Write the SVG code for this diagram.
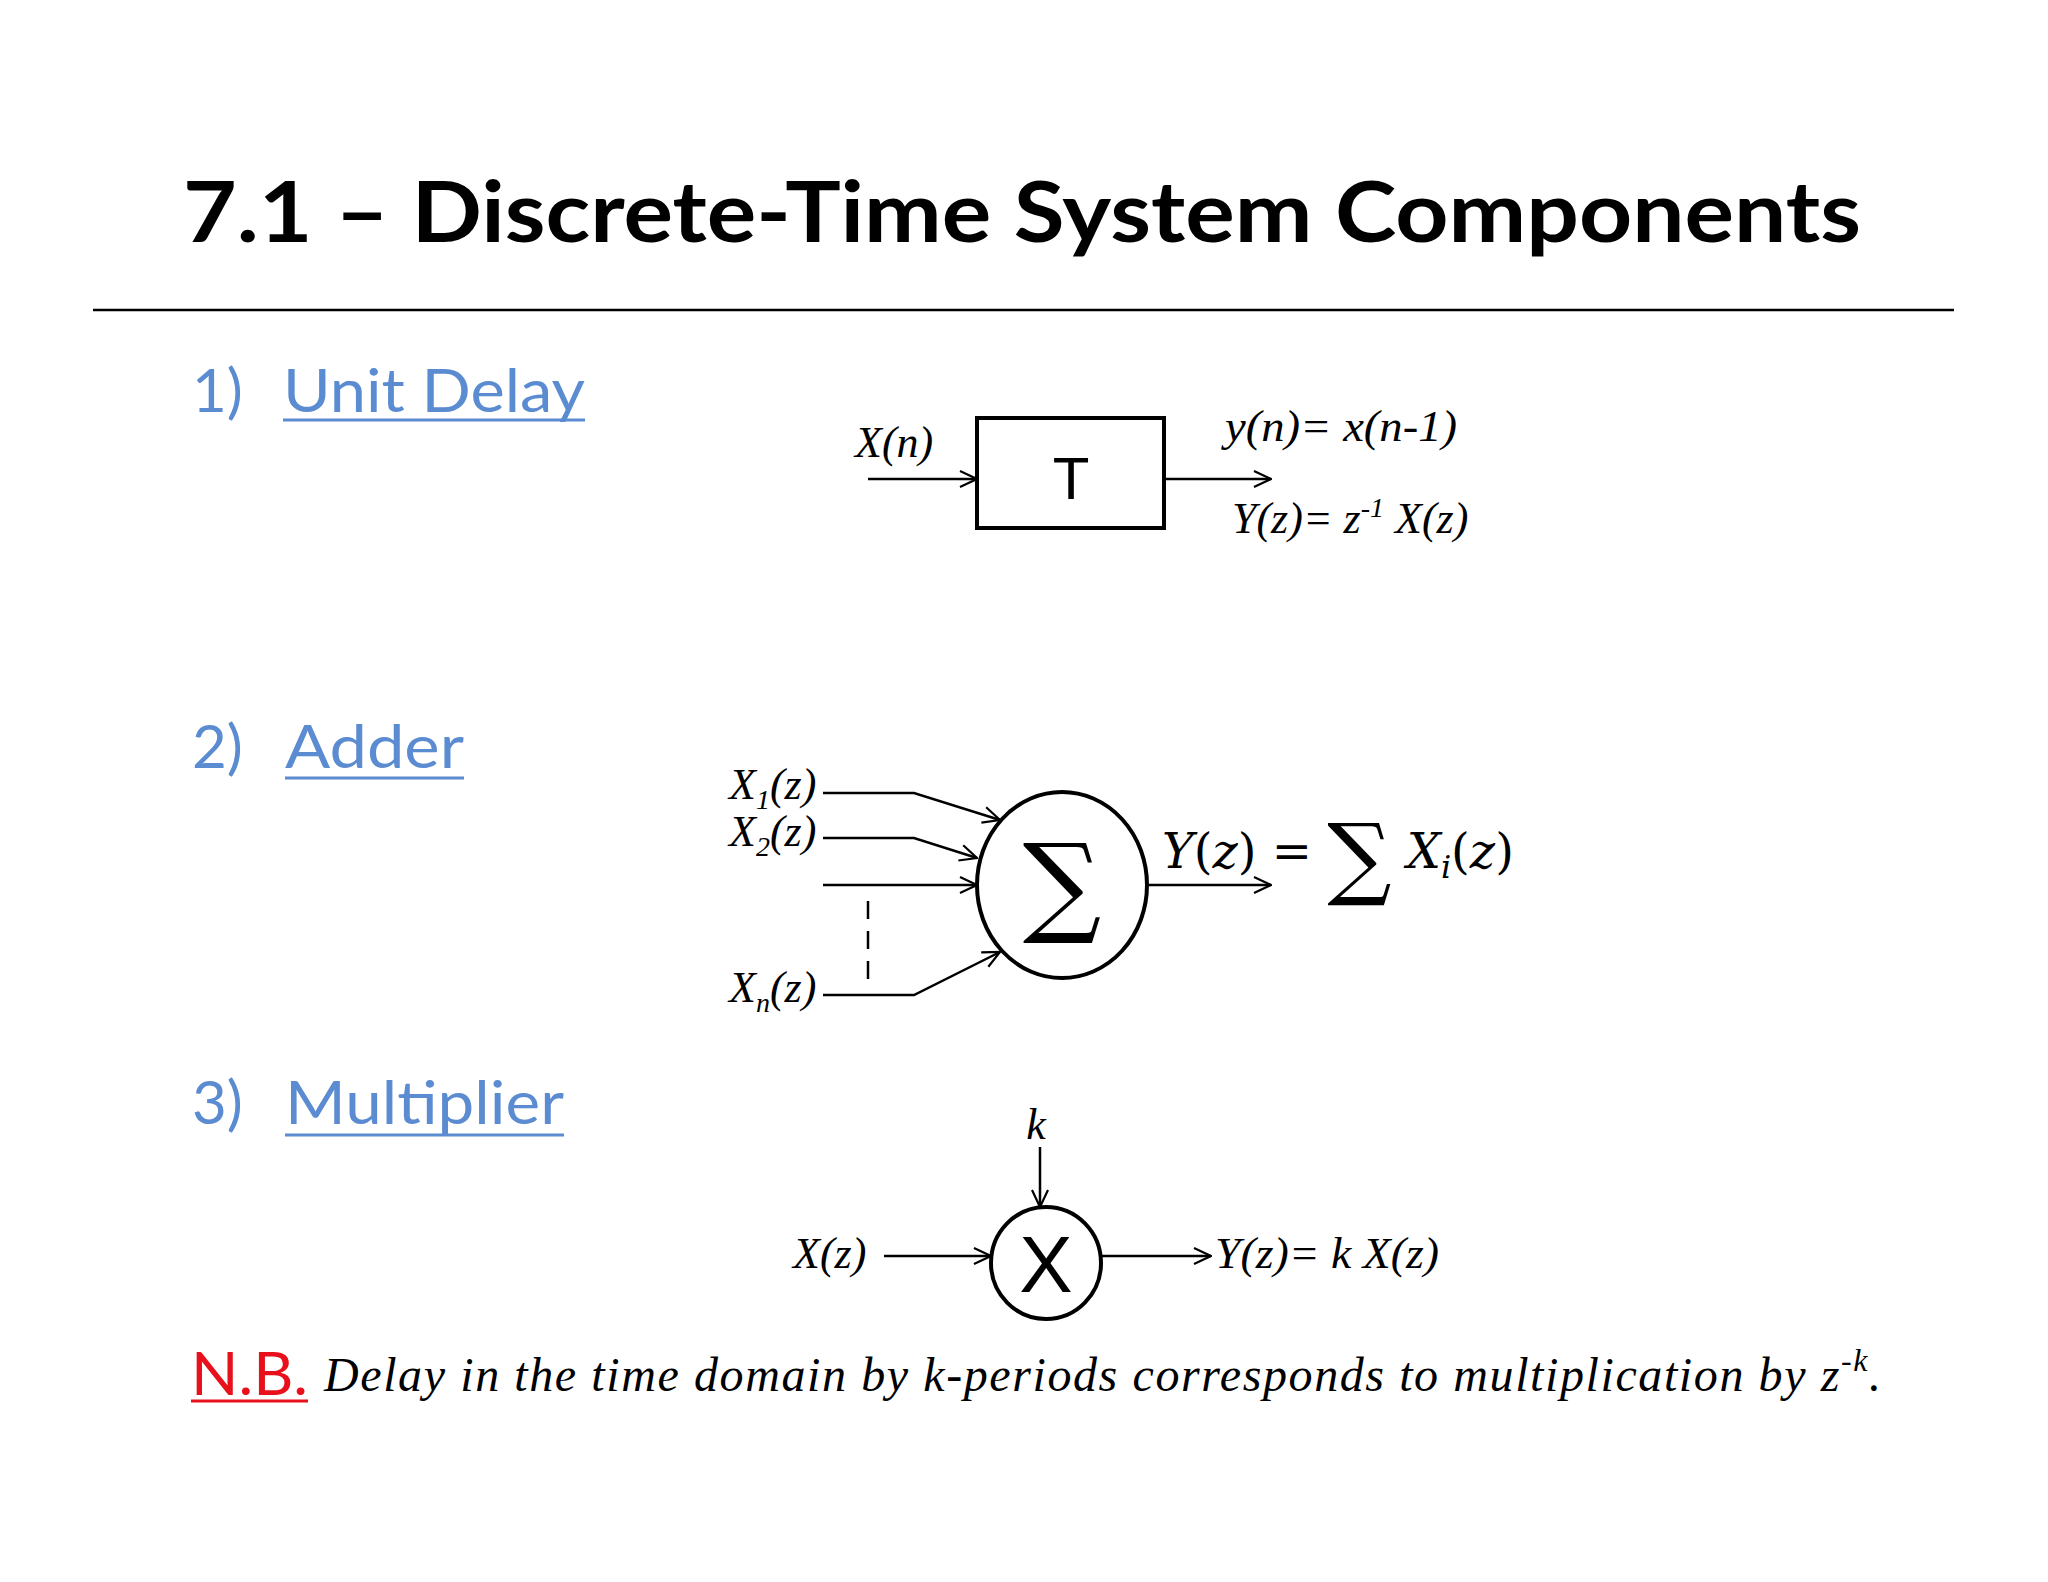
<svg xmlns="http://www.w3.org/2000/svg" width="2048" height="1582" viewBox="0 0 2048 1582">
<defs>
<marker id="a" viewBox="0 0 20 20" refX="19" refY="10" markerWidth="20" markerHeight="20" markerUnits="userSpaceOnUse" orient="auto"><path d="M2,2 L19,10 L2,18" fill="none" stroke="#000" stroke-width="2.2"/></marker>
</defs>
<style>
.h{font-family:Lato,"Open Sans",sans-serif;fill:#5b8bd0;font-size:60px}
.m{font-family:"Liberation Serif",serif;font-style:italic;font-size:44px;fill:#000}
.c{stroke:#000;stroke-width:2.5;fill:none}
</style>
<rect width="2048" height="1582" fill="#fff"/>
<text x="183" y="242" font-family="Lato,sans-serif" font-weight="bold" font-size="84" textLength="1678" lengthAdjust="spacingAndGlyphs">7.1 – Discrete-Time System Components</text>
<line x1="93" y1="310" x2="1954" y2="310" stroke="#000" stroke-width="2.5"/>
<g id="headings">
<text class="h" x="192" y="412">1)</text><text class="h" x="283" y="412" textLength="302" lengthAdjust="spacingAndGlyphs">Unit Delay</text>
<line x1="283" y1="420" x2="585" y2="420" stroke="#5b8bd0" stroke-width="3"/>
<text class="h" x="192" y="768">2)</text><text class="h" x="285" y="768" textLength="179" lengthAdjust="spacingAndGlyphs">Adder</text>
<line x1="285" y1="778" x2="464" y2="778" stroke="#5b8bd0" stroke-width="3"/>
<text class="h" x="192" y="1124">3)</text><text class="h" x="285" y="1124" textLength="279" lengthAdjust="spacingAndGlyphs">Multiplier</text>
<line x1="285" y1="1135" x2="564" y2="1135" stroke="#5b8bd0" stroke-width="3"/>
</g>
<g id="delay">
<rect x="977" y="418" width="187" height="110" fill="#fff" stroke="#000" stroke-width="4"/>
<text x="1071" y="499" text-anchor="middle" font-family="Liberation Sans,sans-serif" font-size="60">T</text>
</g>
<g id="adder">
<ellipse cx="1062" cy="885" rx="85" ry="93" fill="#fff" stroke="#000" stroke-width="4"/>
<text x="1062" y="922" text-anchor="middle" font-family="DejaVu Serif,serif" font-size="110">∑</text>
</g>
<g id="mult">
<ellipse cx="1046" cy="1263" rx="55" ry="56" fill="#fff" stroke="#000" stroke-width="4"/>
<text x="1046" y="1292" text-anchor="middle" font-family="Liberation Sans,sans-serif" font-size="80">X</text>
</g>
<g id="connectors">
<line class="c" x1="868" y1="479" x2="977" y2="479" marker-end="url(#a)"/>
<line class="c" x1="1164" y1="479" x2="1271" y2="479" marker-end="url(#a)"/>
<polyline class="c" points="823,793 914,793 1000,820" marker-end="url(#a)"/>
<polyline class="c" points="823,838 914,838 977,858" marker-end="url(#a)"/>
<line class="c" x1="823" y1="885" x2="977" y2="885" marker-end="url(#a)"/>
<polyline class="c" points="823,995 914,995 1000,952" marker-end="url(#a)"/>
<line class="c" x1="868" y1="901" x2="868" y2="980" stroke-dasharray="18,12"/>
<line class="c" x1="1149" y1="885" x2="1271" y2="885" marker-end="url(#a)"/>
<line class="c" x1="1040" y1="1147" x2="1040" y2="1207" marker-end="url(#a)"/>
<line class="c" x1="884" y1="1256" x2="991" y2="1256" marker-end="url(#a)"/>
<line class="c" x1="1101" y1="1256" x2="1211" y2="1256" marker-end="url(#a)"/>
</g>
<g id="labels">
<text class="m" x="855" y="457">X(n)</text>
<text class="m" x="1225" y="441" textLength="232" lengthAdjust="spacingAndGlyphs">y(n)= x(n-1)</text>
<text class="m" x="1232" y="533">Y(z)= z<tspan font-size="28" dy="-16">-1</tspan><tspan dy="16"> X(z)</tspan></text>
<text class="m" x="729" y="799">X<tspan font-size="28" dy="10">1</tspan><tspan dy="-10">(z)</tspan></text>
<text class="m" x="729" y="846">X<tspan font-size="28" dy="10">2</tspan><tspan dy="-10">(z)</tspan></text>
<text class="m" x="729" y="1002">X<tspan font-size="28" dy="10">n</tspan><tspan dy="-10">(z)</tspan></text>
<text x="1162" y="868" font-family="DejaVu Serif,serif" font-size="48"><tspan font-style="italic">Y</tspan>(<tspan font-style="italic">z</tspan>) = <tspan font-size="90" dy="20">∑</tspan><tspan dy="-20" font-style="italic"> X</tspan><tspan font-style="italic" font-size="32" dy="10">i</tspan><tspan dy="-10">(</tspan><tspan font-style="italic">z</tspan>)</text>
<text class="m" x="1036" y="1139" text-anchor="middle">k</text>
<text class="m" x="793" y="1268">X(z)</text>
<text class="m" x="1215" y="1268" textLength="224" lengthAdjust="spacingAndGlyphs">Y(z)= k X(z)</text>
</g>
<g id="note">
<text x="191" y="1395" font-family="Lato,sans-serif" font-size="60" fill="#e8101a" textLength="117" lengthAdjust="spacingAndGlyphs">N.B.</text>
<line x1="191" y1="1401" x2="308" y2="1401" stroke="#e8101a" stroke-width="3"/>
<text x="324" y="1391" font-family="Liberation Serif,serif" font-style="italic" font-size="48" textLength="1557" lengthAdjust="spacing">Delay in the time domain by k-periods corresponds to multiplication by z<tspan font-size="32" dy="-20">-k</tspan><tspan dy="20">.</tspan></text>
</g>
</svg>
